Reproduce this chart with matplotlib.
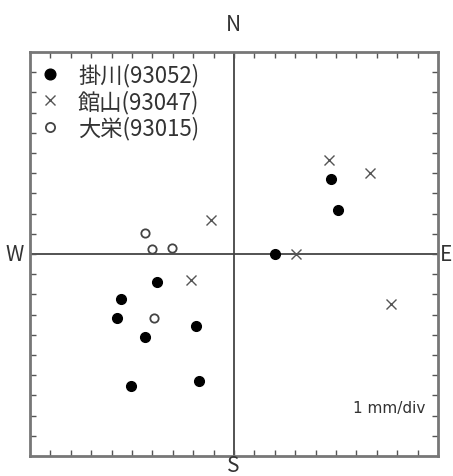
import numpy as np
import matplotlib.pyplot as plt

plt.rcParams['font.family'] = ['Noto Sans CJK JP', 'DejaVu Sans']

# displacement (mm), east = +x, north = +y
kakegawa_x = [4.74, 5.10, 2.0, -3.75, -5.55, -5.72, -4.38, -1.88, -5.06, -1.72]
kakegawa_y = [3.71, 2.18, 0.0, -1.37, -2.24, -3.18, -4.12, -3.54, -6.51, -6.29]
tateyama_x = [4.66, 6.65, -1.11, 3.02, -2.09, 7.72]
tateyama_y = [4.65, 4.00, 1.68, 0.0, -1.29, -2.48]
daiei_x = [-4.38, -4.00, -3.02, -3.92]
daiei_y = [1.02, 0.25, 0.32, -3.16]
labels = ["掛川(93052)", "館山(93047)", "大栄(93015)"]

fig = plt.figure(figsize=(4.53, 4.77), dpi=100)
ax = fig.add_axes([0.0662, 0.0419, 0.9007, 0.847])

ax.axhline(0, color="#444444", lw=1.3, zorder=1)
ax.axvline(0, color="#444444", lw=1.3, zorder=1)

ax.plot(kakegawa_x, kakegawa_y, "o", color="black", ms=7, ls="none",
        label=labels[0], zorder=3)
ax.plot(tateyama_x, tateyama_y, "x", color="#555555", ms=7, mew=1.0,
        ls="none", label=labels[1], zorder=3)
ax.plot(daiei_x, daiei_y, "o", mfc="white", mec="#444444", ms=6, mew=1.3,
        ls="none", label=labels[2], zorder=3)

ax.set_xlim(-10, 10)
ax.set_ylim(-10, 10)
ax.set_xticks(np.arange(-9, 10))
ax.set_yticks(np.arange(-9, 10))
ax.tick_params(direction="in", length=4, width=1, color="#555555",
               top=True, right=True, labelbottom=False, labelleft=False)
for s in ax.spines.values():
    s.set_color("#777777")
    s.set_linewidth(2)

leg = ax.legend(loc="upper left", bbox_to_anchor=(-0.005, 1.0),
                frameon=False, fontsize=16,
                handlelength=1.0, handletextpad=0.75, labelspacing=0.12,
                borderaxespad=0.3, borderpad=0.2, markerscale=1.1)
for t in leg.get_texts():
    t.set_color("#333333")

fig.text(233 / 453, 1 - 25 / 477, "N", ha="center", va="center",
         fontsize=15, color="#333333")
fig.text(233 / 453, 1 - 466 / 477, "S", ha="center", va="center",
         fontsize=15, color="#333333")
fig.text(15 / 453, 1 - 255 / 477, "W", ha="center", va="center",
         fontsize=15, color="#333333")
fig.text(446 / 453, 1 - 255 / 477, "E", ha="center", va="center",
         fontsize=15, color="#333333")
ax.text(9.4, -7.6, "1 mm/div", ha="right", va="center", fontsize=11,
        color="#333333", family="DejaVu Sans")

fig.savefig("out.png", dpi=100)
